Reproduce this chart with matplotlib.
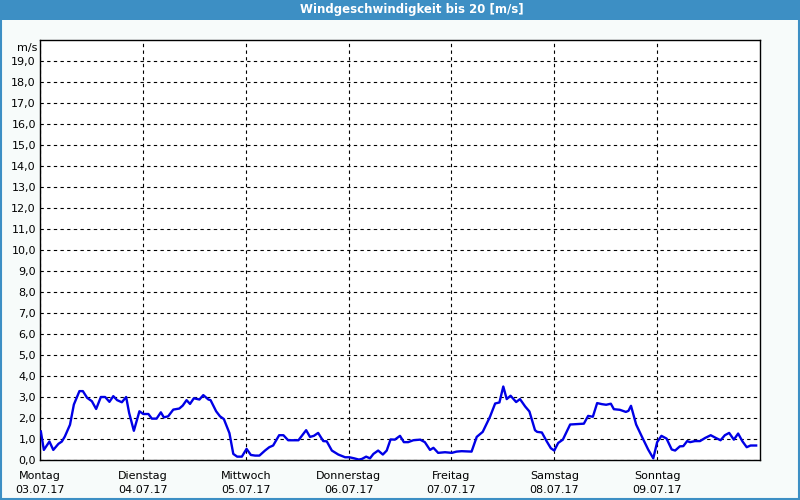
import numpy as np
import matplotlib.pyplot as plt
from matplotlib.patches import Rectangle

# hours since Monday 00:00 and wind speed in m/s
hours = [0.2, 0.9, 2.2, 3.1, 4.3, 5.1, 5.8, 7.0, 7.9, 9.2, 10.0, 11.0, 12.1, 13.1,
         14.2, 15.2, 16.2, 17.1, 18.0, 19.1, 20.1, 20.8, 21.9, 23.2, 24.1, 25.3,
         26.1, 27.2, 28.2, 28.9, 29.9, 31.1, 32.5, 33.3, 34.2, 35.0, 35.9, 37.2,
         38.1, 39.3, 39.8, 41.1, 42.0, 42.9, 44.2, 45.1, 46.0, 47.1, 48.2, 49.2,
         50.2, 51.2, 52.5, 53.5, 54.4, 55.8, 56.8, 57.9, 60.3, 62.1, 63.0, 63.9,
         64.9, 66.1, 66.9, 68.1, 69.6, 71.2, 72.2, 73.3, 74.4, 75.1, 76.1, 77.0,
         77.8, 78.9, 80.0, 80.9, 81.8, 82.8, 84.0, 84.9, 85.9, 87.1, 88.7, 89.8,
         91.0, 91.8, 92.9, 94.5, 96.1, 97.2, 98.4, 100.7, 101.9, 103.3, 105.0,
         106.2, 107.2, 108.1, 108.9, 109.8, 111.1, 112.0, 113.2, 114.2, 115.5,
         116.0, 117.1, 118.2, 119.2, 120.0, 120.9, 122.0, 123.7, 126.9, 127.9,
         129.0, 130.0, 131.1, 132.1, 133.2, 133.9, 135.3, 136.7, 137.3, 137.9,
         139.1, 140.4, 141.9, 143.1, 144.0, 145.0, 146.2, 147.4, 148.2, 149.3,
         150.1, 151.0, 151.7, 152.8, 154.0, 155.2, 156.5, 157.7, 158.8, 159.8,
         160.8, 161.9, 162.9, 163.9, 164.9, 165.8, 167.1]
speed = [1.36, 0.48, 0.88, 0.48, 0.77, 0.88, 1.12, 1.68, 2.64, 3.28, 3.28, 2.96,
         2.8, 2.43, 3.0, 3.0, 2.77, 3.04, 2.85, 2.75, 3.0, 2.24, 1.39, 2.32, 2.19,
         2.19, 1.97, 1.97, 2.27, 2.03, 2.08, 2.4, 2.45, 2.59, 2.85, 2.67, 2.94,
         2.88, 3.09, 2.88, 2.85, 2.32, 2.08, 1.95, 1.28, 0.29, 0.16, 0.16, 0.53,
         0.24, 0.21, 0.21, 0.45, 0.61, 0.69, 1.18, 1.18, 0.94, 0.94, 1.42, 1.1,
         1.15, 1.29, 0.9, 0.89, 0.45, 0.26, 0.13, 0.13, 0.08, 0.02, 0.05, 0.16,
         0.08, 0.29, 0.45, 0.26, 0.45, 0.98, 0.97, 1.15, 0.85, 0.85, 0.94, 0.97,
         0.85, 0.48, 0.58, 0.34, 0.37, 0.34, 0.40, 0.42, 0.40, 1.1, 1.34, 2.06,
         2.69, 2.74, 3.5, 2.9, 3.06, 2.76, 2.9, 2.55, 2.31, 1.42, 1.34, 1.31, 0.9,
         0.56, 0.45, 0.81, 0.97, 1.69, 1.73, 2.1, 2.06, 2.71, 2.66, 2.63, 2.68,
         2.42, 2.39, 2.29, 2.34, 2.58, 1.69, 1.13, 0.5, 0.08, 0.85, 1.15, 1.02,
         0.5, 0.45, 0.65, 0.66, 0.9, 0.85, 0.9, 0.9, 1.05, 1.18, 1.05, 0.94, 1.18,
         1.29, 0.97, 1.26, 0.89, 0.61, 0.69, 0.69]

days = ["Montag", "Dienstag", "Mittwoch", "Donnerstag", "Freitag", "Samstag", "Sonntag"]
dates = ["03.07.17", "04.07.17", "05.07.17", "06.07.17", "07.07.17", "08.07.17", "09.07.17"]
y_ticks = np.arange(0, 20)

bg = "#f7fbfa"
bar_blue = "#3d8fc4"

fig = plt.figure(figsize=(8, 5), dpi=100, facecolor=bg)

# title bar + window frame
fig.patches.append(Rectangle((0, 0.96), 1, 0.04, transform=fig.transFigure,
                             facecolor=bar_blue, edgecolor="none", zorder=0))
fig.patches.append(Rectangle((0.001, 0.002), 0.998, 0.996, transform=fig.transFigure,
                             facecolor="none", edgecolor=bar_blue, linewidth=1.5, zorder=1))
fig.text(0.515, 0.98, "Windgeschwindigkeit bis 20 [m/s]", color="white",
         fontsize=8.5, fontweight="bold", ha="center", va="center")

ax = fig.add_axes([0.05, 0.08, 0.90, 0.84])
ax.set_facecolor("white")
ax.plot(hours, speed, color="#0000e6", linewidth=1.7, zorder=3)

ax.set_xlim(0, 168)
ax.set_ylim(0, 20)
ax.set_yticks(y_ticks)
ax.set_yticklabels([f"{v},0" for v in y_ticks], fontsize=8)
ax.set_xticks(np.arange(0, 168, 24))
ax.set_xticklabels([f"{d}\n{t}" for d, t in zip(days, dates)], fontsize=8,
                   linespacing=1.45)
ax.tick_params(length=0, pad=3)
ax.tick_params(axis="x", pad=8)
ax.grid(True, color="black", linestyle=(0, (3, 3)), linewidth=0.8)
for s in ax.spines.values():
    s.set_linewidth(1.0)
    s.set_color("black")
ax.text(-0.004, 0.994, "m/s", transform=ax.transAxes, ha="right", va="top", fontsize=8)

fig.savefig("out.png", dpi=100, facecolor=bg)
